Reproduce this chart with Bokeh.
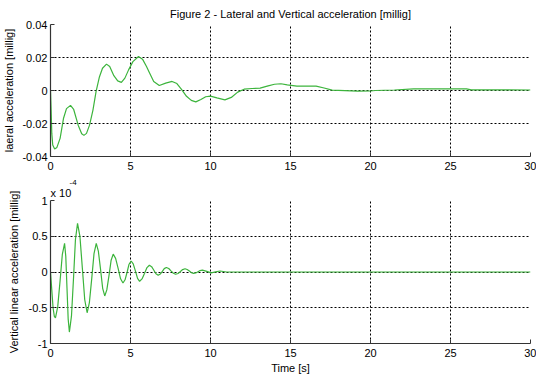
from bokeh.plotting import figure
from bokeh.layouts import column
from bokeh.models import FixedTicker, Range1d, ColumnDataSource, Title
from bokeh.embed import file_html
from bokeh.resources import INLINE

# ---------------- data ----------------
lat_t = [0.00, 0.04, 0.08, 0.14, 0.26, 0.40, 0.60, 0.81, 1.00, 1.25, 1.45, 1.73, 1.95, 2.09,
         2.25, 2.44, 2.65, 2.85, 3.05, 3.25, 3.50, 3.70, 3.96, 4.20, 4.43, 4.65, 4.88, 5.15,
         5.50, 5.75, 6.00, 6.20, 6.45, 6.80, 7.20, 7.60, 7.90, 8.20, 8.50, 8.80, 9.08, 9.40,
         9.70, 10.00, 10.40, 10.90, 11.30, 11.70, 12.10, 12.60, 13.10, 13.60, 14.00, 14.40,
         14.80, 15.40, 16.60, 17.10, 17.60, 19.20, 20.00, 20.30, 21.50, 22.70, 26.00, 26.30, 30.00]
lat_acc = [0.0000, -0.0120, -0.0260, -0.0330, -0.0354, -0.0345, -0.0290, -0.0170, -0.0110,
           -0.0090, -0.0115, -0.0210, -0.0262, -0.0272, -0.0260, -0.0210, -0.0120, -0.0005,
           0.0080, 0.0135, 0.0160, 0.0145, 0.0090, 0.0058, 0.0049, 0.0075, 0.0125, 0.0175,
           0.0206, 0.0190, 0.0145, 0.0105, 0.0055, 0.0030, 0.0045, 0.0055, 0.0042, 0.0005,
           -0.0035, -0.0060, -0.0069, -0.0055, -0.0038, -0.0034, -0.0045, -0.0057, -0.0042,
           -0.0010, 0.0008, 0.0012, 0.0014, 0.0028, 0.0038, 0.0041, 0.0034, 0.0027, 0.0026,
           0.0015, 0.0002, -0.0004, -0.0003, 0.0000, 0.0003, 0.0010, 0.0010, 0.0004, 0.0003]

# vertical acceleration in units of 1e-4 millig
vert_t = [0.00, 0.08, 0.16, 0.24, 0.31, 0.45, 0.60, 0.74, 0.88, 0.955, 1.03, 1.105, 1.18,
          1.31, 1.44, 1.56, 1.69, 1.84, 1.99, 2.14, 2.29, 2.43, 2.58, 2.72, 2.86, 2.99, 3.13,
          3.26, 3.39, 3.52, 3.66, 3.79, 3.92, 4.07, 4.23, 4.38, 4.53, 4.66, 4.79, 4.91, 5.04,
          5.17, 5.31, 5.44, 5.57, 5.72, 5.88, 6.03, 6.18, 6.32, 6.46, 6.59, 6.73, 6.86, 6.99,
          7.11, 7.24, 7.39, 7.53, 7.68, 7.82, 7.97, 8.12, 8.26, 8.41, 8.54, 8.68, 8.81, 8.94,
          9.08, 9.22, 9.35, 9.49, 9.77, 10.04, 10.32, 10.60, 11.00, 30.00]
vert_acc = [0.0, -0.25, -0.50, -0.62, -0.64, -0.488, -0.12, 0.248, 0.40, 0.219, -0.22, -0.659,
            -0.84, -0.618, -0.08, 0.458, 0.68, 0.497, 0.055, -0.388, -0.57, -0.428, -0.085,
            0.258, 0.40, 0.293, 0.033, -0.228, -0.335, -0.25, -0.043, 0.165, 0.25, 0.191, 0.048,
            -0.095, -0.154, -0.109, 0.0, 0.109, 0.154, 0.113, 0.012, -0.089, -0.13, -0.097,
            -0.018, 0.062, 0.095, 0.075, 0.025, -0.025, -0.045, -0.029, 0.009, 0.047, 0.063,
            0.049, 0.016, -0.018, -0.032, -0.021, 0.007, 0.034, 0.045, 0.035, 0.013, -0.01,
            -0.02, -0.013, 0.004, 0.02, 0.027, 0.008, -0.012, 0.001, 0.014, 0.0, 0.0]

x_ticks = [0, 5, 10, 15, 20, 25, 30]
top_y_ticks = [-0.04, -0.02, 0, 0.02, 0.04]
top_y_labels = ["-0.04", "-0.02", "0", "0.02", "0.04"]
bot_y_ticks = [-1, -0.5, 0, 0.5, 1]
bot_y_labels = ["-1", "-0.5", "0", "0.5", "1"]

title_text = "Figure 2 - Lateral and Vertical acceleration [millig]"
top_ylabel = "laeral acceleration [millig]"
bot_ylabel = "Vertical linear acceleration [millig]"
bot_xlabel = "Time [s]"
scale_text = "x 10"
scale_exp = "-4"

LINE_COLOR = "#3cb43c"
FONT = "Liberation Sans"
W = 536


def style(p, yticks, ylabels, label_standoff, xstandoff):
    p.outline_line_color = None
    for ax in (p.xaxis[0], p.yaxis[0]):
        ax.axis_line_color = "#333333"
        ax.axis_line_width = 1.2
        ax.major_tick_in = 4
        ax.major_tick_out = 0
        ax.major_tick_line_color = "#333333"
        ax.minor_tick_line_color = None
        ax.major_label_text_font = FONT
        ax.major_label_text_font_size = "11px"
        ax.major_label_text_color = "black"
        ax.axis_label_text_font = FONT
        ax.axis_label_text_font_size = "11px"
        ax.axis_label_text_font_style = "normal"
        ax.axis_label_text_color = "black"
    p.xaxis[0].ticker = FixedTicker(ticks=x_ticks)
    p.xaxis[0].major_label_standoff = xstandoff
    p.yaxis[0].ticker = FixedTicker(ticks=yticks)
    p.yaxis[0].major_label_overrides = dict(zip(yticks, ylabels))
    p.yaxis[0].major_label_standoff = 3
    p.yaxis[0].axis_label_standoff = label_standoff
    for g in (p.xgrid[0], p.ygrid[0]):
        g.grid_line_color = "black"
        g.grid_line_dash = "2 2"
        g.grid_line_width = 1
        g.grid_line_alpha = 1.0


# ---------------- top ----------------
p1 = figure(width=W, height=176, output_backend="svg", toolbar_location=None,
            x_range=Range1d(0, 30), y_range=Range1d(-0.04, 0.04),
            min_border_left=50, min_border_right=6, min_border_top=24, min_border_bottom=20,
            title=title_text)
p1.title.align = "center"
p1.title.text_font = FONT
p1.title.text_font_size = "11px"
p1.title.text_font_style = "normal"
p1.title.text_color = "black"
p1.title.standoff = 9
src1 = ColumnDataSource(dict(t=lat_t, a=lat_acc))
p1.line("t", "a", source=src1, line_color=LINE_COLOR, line_width=1.2)
p1.yaxis.axis_label = top_ylabel
style(p1, top_y_ticks, top_y_labels, 4, 5)

# ---------------- bottom ----------------
p2 = figure(width=W, height=200, output_backend="svg", toolbar_location=None,
            x_range=Range1d(0, 30), y_range=Range1d(-1, 1),
            min_border_left=50, min_border_right=6, min_border_top=24, min_border_bottom=32)
src2 = ColumnDataSource(dict(t=vert_t, a=vert_acc))
p2.line("t", "a", source=src2, line_color=LINE_COLOR, line_width=1.2)
p2.yaxis.axis_label = bot_ylabel
p2.xaxis.axis_label = bot_xlabel
style(p2, bot_y_ticks, bot_y_labels, 6, 5)
p2.xaxis[0].axis_label_standoff = 2

t_main = Title(text=scale_text, align="left", offset=0, standoff=3, text_color="black",
               text_font=FONT, text_font_size="11px", text_font_style="normal")
t_exp = Title(text=scale_exp, align="left", offset=19, standoff=-2, text_color="black",
              text_font=FONT, text_font_size="8px", text_font_style="normal")
p2.add_layout(t_main, "above")
p2.add_layout(t_exp, "above")

layout = column(p1, p2)
open("out.html", "w").write(file_html(layout, INLINE))
